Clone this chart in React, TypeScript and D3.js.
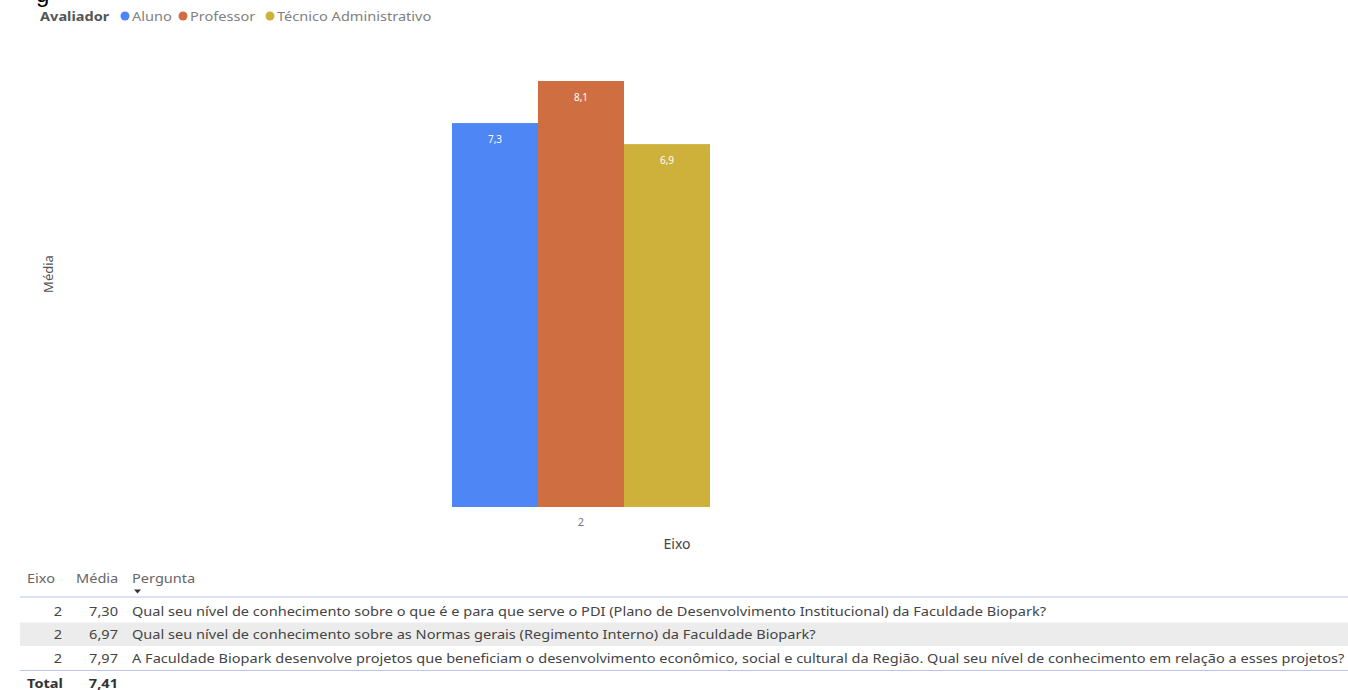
import React from "react";
import * as d3 from "d3";

const categories = ["2"];
const seriesNames = ["Aluno", "Professor", "Técnico Administrativo"];
const seriesValues = [7.3, 8.1, 6.9];
const seriesColors = ["#4E87F5", "#CF6E40", "#CDB13B"];

const tableEixo = ["2", "2", "2"];
const tableMedia = [7.3, 6.97, 7.97];
const tableQuestions = [
  "Qual seu nível de conhecimento sobre o que é e para que serve o PDI (Plano de Desenvolvimento Institucional) da Faculdade Biopark?",
  "Qual seu nível de conhecimento sobre as Normas gerais (Regimento Interno) da Faculdade Biopark?",
  "A Faculdade Biopark desenvolve projetos que beneficiam o desenvolvimento econômico, social e cultural da Região. Qual seu nível de conhecimento em relação a esses projetos?",
];
const tableTotal = 7.41;

const W = 1348;
const H = 690;
const FONT = "'Noto Sans', 'Open Sans', sans-serif";
const SX = 1.12; // horizontal stretch of the screenshot text

const locale = d3.formatLocale({ decimal: ",", thousands: ".", grouping: [3], currency: ["R$", ""] });
const f1 = locale.format(".1f");
const f2 = locale.format(".2f");

type TProps = {
  x: number;
  y: number;
  children: React.ReactNode;
  size: number;
  fill: string;
  anchor?: "start" | "end" | "middle";
  weight?: number;
};

function SText({ x, y, children, size, fill, anchor = "start", weight = 400 }: TProps) {
  return (
    <text
      transform={`translate(${x},${y}) scale(${SX},1)`}
      fontSize={size}
      fill={fill}
      textAnchor={anchor}
      fontWeight={weight}
    >
      {children}
    </text>
  );
}

export default function App() {
  const x = d3.scaleBand<string>().domain(categories).range([452, 710]).padding(0);
  const xs = d3.scaleBand<string>().domain(seriesNames).range([0, x.bandwidth()]).padding(0);
  const y = d3.scaleLinear().domain([0, d3.max(seriesValues) as number]).range([507, 81]);

  const rowTop = 599;
  const rowH = 23.5;

  const legendX = [125, 183, 270];

  return (
    <div>
      <style>{"body{margin:0}"}</style>
      <svg width={W} height={H} style={{ display: "block", fontFamily: FONT }}>
        <rect width={W} height={H} fill="#ffffff" />
        {/* cut-off title glyph from the page above */}
        <text x={36} y={2} fontSize={24} fill="#000" fontFamily="'Liberation Sans', Arial, sans-serif">g</text>

        {/* legend */}
        <SText x={40} y={20.5} size={13} weight={700} fill="#555">Avaliador</SText>
        {seriesNames.map((s, i) => (
          <g key={s}>
            <circle cx={legendX[i]} cy={16} r={4.5} fill={seriesColors[i]} />
            <SText x={legendX[i] + 7} y={20.5} size={13} fill="#808080">{s}</SText>
          </g>
        ))}

        {/* bars */}
        {categories.map((c) => (
          <g key={c} transform={`translate(${x(c)},0)`}>
            {seriesNames.map((s, i) => (
              <g key={s}>
                <rect
                  x={xs(s)}
                  y={y(seriesValues[i])}
                  width={xs.bandwidth()}
                  height={y(0) - y(seriesValues[i])}
                  fill={seriesColors[i]}
                />
                <text
                  x={(xs(s) as number) + xs.bandwidth() / 2}
                  y={y(seriesValues[i]) + 20}
                  fontSize={10}
                  fill="#ffffff"
                  textAnchor="middle"
                >
                  {f1(seriesValues[i])}
                </text>
              </g>
            ))}
          </g>
        ))}

        {/* x axis tick + title */}
        {categories.map((c) => (
          <text key={c} x={(x(c) as number) + x.bandwidth() / 2} y={526} fontSize={11} fill="#777" textAnchor="middle">
            {c}
          </text>
        ))}
        <text x={677} y={549} fontSize={14} fill="#444" textAnchor="middle">Eixo</text>
        <text transform="translate(53,274) rotate(-90)" fontSize={13} fill="#555" textAnchor="middle">Média</text>

        {/* table */}
        <SText x={27} y={583} size={13} fill="#666">Eixo</SText>
        <SText x={76} y={583} size={13} fill="#666">Média</SText>
        <SText x={132} y={583} size={13} fill="#666">Pergunta</SText>
        <path d="M134,589.5 L141,589.5 L137.5,593.5 Z" fill="#333" />
        <rect x={20} y={rowTop + rowH} width={W - 20} height={rowH} fill="#ececec" />
        <line x1={20} x2={W} y1={rowTop - 2} y2={rowTop - 2} stroke="#b8c4e6" strokeWidth={1} />
        {tableQuestions.map((q, i) => {
          const cy = rowTop + rowH * i + rowH / 2 + 5;
          return (
            <g key={i}>
              <SText x={62} y={cy} size={13} fill="#444" anchor="end">{tableEixo[i]}</SText>
              <SText x={118} y={cy} size={13} fill="#444" anchor="end">{f2(tableMedia[i])}</SText>
              <SText x={132} y={cy} size={13} fill="#444">{q}</SText>
            </g>
          );
        })}
        <line x1={20} x2={W} y1={rowTop + rowH * 3 + 1} y2={rowTop + rowH * 3 + 1} stroke="#b8c4e6" strokeWidth={1} />
        <SText x={27} y={688} size={13} weight={700} fill="#333">Total</SText>
        <SText x={118} y={688} size={13} weight={700} fill="#333" anchor="end">{f2(tableTotal)}</SText>
      </svg>
    </div>
  );
}
